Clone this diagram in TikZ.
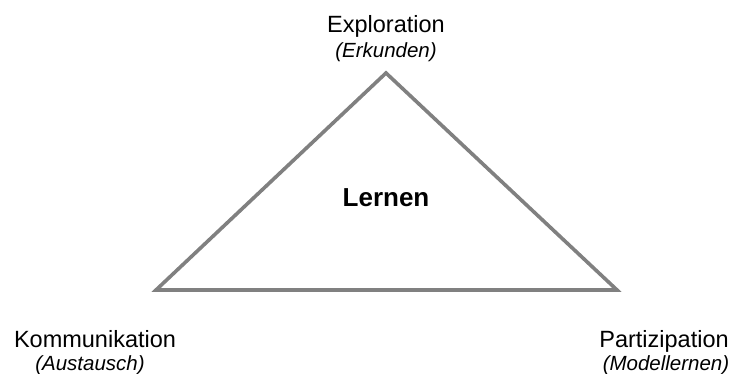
\documentclass[tikz,border=0pt]{standalone}
\usepackage{fontspec}
\setmainfont{Liberation Sans}
\begin{document}
\begin{tikzpicture}[x=1pt,y=-1pt,
  lbl/.style={inner sep=0pt,anchor=base,font=\fontsize{23.5}{26}\selectfont},
  sub/.style={inner sep=0pt,anchor=base,font=\fontsize{20.5}{22}\selectfont\itshape},
  ctr/.style={inner sep=0pt,anchor=base,font=\fontsize{26}{28}\selectfont\bfseries},
  edge/.style={draw={rgb,255:red,128;green,128;blue,128},line width=3.6pt,line join=miter}]
\useasboundingbox (0,0) rectangle (731,374);
\coordinate (A) at (386,73);
\coordinate (B) at (156,290);
\coordinate (C) at (617,290);
\draw[edge] (A) -- (B) -- (C) -- cycle;
\node[lbl] (exp) at (386,33) {Exploration};
\node[sub] (erk) at (386,58) {(Erkunden)};
\node[ctr] (lern) at (386,207) {Lernen};
\node[lbl] (kom) at (95,347) {Kommunikation};
\node[sub] (aus) at (90,370) {(Austausch)};
\node[lbl] (par) at (664,347) {Partizipation};
\node[sub] (mod) at (666,370) {(Modellernen)};
\end{tikzpicture}
\end{document}
